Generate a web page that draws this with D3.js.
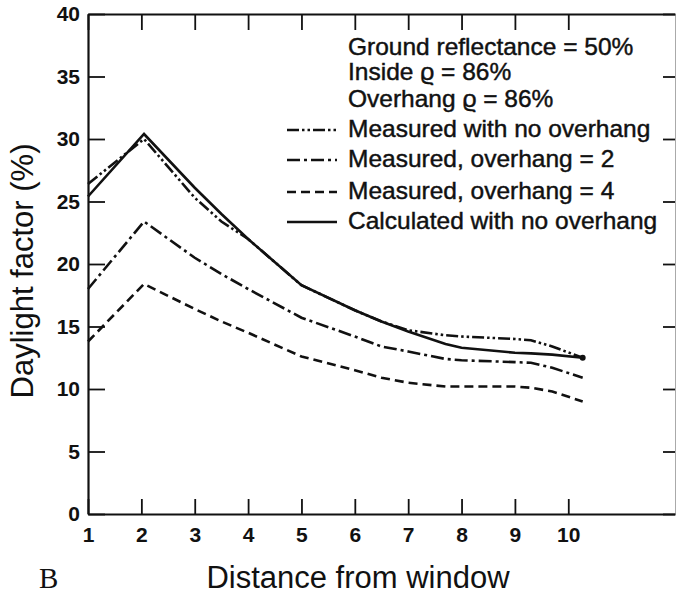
<!DOCTYPE html>
<html>
<head>
<meta charset="utf-8">
<script src="https://cdn.jsdelivr.net/npm/d3@7"></script>
<style>
  body { margin: 0; background: #fff; }
  svg { display: block; }
  text { font-family: "Liberation Sans", Arial, Helvetica, sans-serif; fill: #111; }
</style>
</head>
<body>
<svg id="chart" width="676" height="594"></svg>
<script>
// Distance from window (shared sample positions for every curve)
const distances = [1, 2.05, 3, 3.5, 4, 5, 6, 6.5, 7, 7.7, 8, 9, 9.3, 9.7, 10.27];

// Daylight factor (%) for each curve
const measuredNoOverhang = [26.4, 30.0, 25.3, 23.4, 22.0, 18.3, 16.3, 15.4, 14.7, 14.3, 14.2, 14.0, 13.9, 13.4, 12.5];
const measuredOverhang2  = [18.0, 23.4, 20.5, 19.2, 18.0, 15.7, 14.2, 13.4, 13.0, 12.4, 12.3, 12.15, 12.1, 11.7, 10.9];
const measuredOverhang4  = [13.8, 18.4, 16.4, 15.4, 14.5, 12.6, 11.5, 10.9, 10.5, 10.2, 10.2, 10.2, 10.1, 9.8, 9.0];
const calculatedNoOverhang = [25.4, 30.4, 26.1, 24.0, 22.0, 18.3, 16.3, 15.4, 14.6, 13.6, 13.3, 12.9, 12.85, 12.75, 12.5];

const seriesNames = [
  "Measured with no overhang",
  "Measured, overhang = 2",
  "Measured, overhang = 4",
  "Calculated with no overhang"
];
const noteLines = ["Ground reflectance = 50%", "Inside \u03f1 = 86%", "Overhang \u03f1 = 86%"];

const xTickValues = [1, 2, 3, 4, 5, 6, 7, 8, 9, 10];
const yTickValues = [0, 5, 10, 15, 20, 25, 30, 35, 40];

const seriesValues = [measuredNoOverhang, measuredOverhang2, measuredOverhang4, calculatedNoOverhang];
const dashPatterns = ["12,3,2.5,3,2.5,3", "13,4,3,4", "9,5", null];

const svg = d3.select("#chart");
const x = d3.scaleLinear().domain([1, 12]).range([88, 675]);
const y = d3.scaleLinear().domain([0, 40]).range([514, 14]);

// Axes: ticks point into the plot on all four sides
function styleAxis(g) {
  g.selectAll("path.domain").attr("stroke", "#111").attr("stroke-width", 2.2);
  g.selectAll(".tick line").attr("stroke", "#111").attr("stroke-width", 1.8);
  g.selectAll(".tick text")
    .attr("fill", "#111")
    .style("font-family", '"Liberation Sans", Arial, Helvetica, sans-serif')
    .style("font-size", "21px")
    .style("font-weight", "bold");
}

svg.append("g")
  .attr("transform", `translate(${x(1)},0)`)
  .call(d3.axisLeft(y).tickValues(yTickValues).tickSizeInner(-17).tickSizeOuter(0).tickPadding(8))
  .call(styleAxis);

const rightAxis = svg.append("g")
  .attr("transform", `translate(${x(12)},0)`)
  .call(d3.axisRight(y).tickValues(yTickValues).tickSizeInner(-12).tickSizeOuter(0).tickFormat(""))
  .call(styleAxis);
rightAxis.select("path.domain").attr("stroke", "#aaa").attr("stroke-width", 1);

svg.append("g")
  .attr("transform", `translate(0,${y(0)})`)
  .call(d3.axisBottom(x).tickValues(xTickValues).tickSizeInner(-15).tickSizeOuter(0).tickPadding(13))
  .call(styleAxis);

svg.append("g")
  .attr("transform", `translate(0,${y(40)})`)
  .call(d3.axisTop(x).tickValues(xTickValues).tickSizeInner(-16).tickSizeOuter(0).tickFormat(""))
  .call(styleAxis);

// Curves
const line = d3.line().x(d => x(d[0])).y(d => y(d[1]));
seriesValues.forEach((vals, i) => {
  svg.append("path")
    .datum(distances.map((d, j) => [d, vals[j]]))
    .attr("fill", "none")
    .attr("stroke", "#111")
    .attr("stroke-width", 2.6)
    .attr("stroke-dasharray", dashPatterns[i])
    .attr("d", line);
});

// Ink blob where the two no-overhang curves end together
const lastIdx = distances.length - 1;
svg.append("circle")
  .attr("cx", x(distances[lastIdx]))
  .attr("cy", y(calculatedNoOverhang[lastIdx]))
  .attr("r", 3)
  .attr("fill", "#111");

// Notes and legend (medium-weight lettering)
function medium(sel) {
  sel.style("font-size", "24.5px")
    .attr("stroke", "#111").attr("stroke-width", 0.45);
}
const noteBaselines = [55, 80, 107];
noteLines.forEach((t, i) => {
  svg.append("text").attr("x", 348).attr("y", noteBaselines[i]).call(medium).text(t);
});

const legendBaselines = [137, 167, 199, 229];
seriesNames.forEach((name, i) => {
  const by = legendBaselines[i];
  svg.append("line")
    .attr("x1", 287).attr("x2", 337)
    .attr("y1", by - 7).attr("y2", by - 7)
    .attr("stroke", "#111").attr("stroke-width", 2.6)
    .attr("stroke-dasharray", dashPatterns[i]);
  svg.append("text").attr("x", 348).attr("y", by).call(medium).text(name);
});

// Axis titles
svg.append("text")
  .attr("transform", "translate(33,271) rotate(-90)")
  .attr("text-anchor", "middle")
  .style("font-size", "31px")
  .text("Daylight factor (%)");

svg.append("text")
  .attr("x", 358).attr("y", 588)
  .attr("text-anchor", "middle")
  .style("font-size", "31px")
  .text("Distance from window");

svg.append("text")
  .attr("x", 39).attr("y", 588)
  .style("font-family", '"Liberation Serif", "DejaVu Serif", serif')
  .style("font-size", "29px")
  .text("B");
</script>
</body>
</html>
